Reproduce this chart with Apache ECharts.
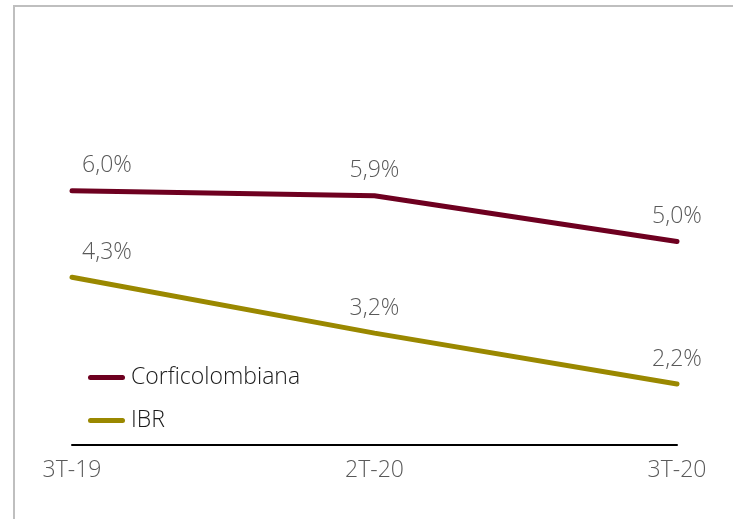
<!DOCTYPE html>
<html>
<head>
<meta charset="utf-8">
<script src="https://cdn.jsdelivr.net/npm/echarts@6/dist/echarts.min.js"></script>
<style>html,body{margin:0;padding:0;background:#fff}#c{width:733px;height:519px}</style>
</head>
<body>
<div id="c"></div>
<script>
const categories = ['3T-19', '2T-20', '3T-20'];
const corfiValues = [6.0, 5.9, 5.0];
const ibrValues = [4.3, 3.2, 2.2];
const seriesNames = ['Corficolombiana', 'IBR'];

const chart = echarts.init(document.getElementById('c'), null, {renderer: 'canvas'});
const fmt = p => p.value.toFixed(1).replace('.', ',') + '%';
function build(vals) {
  return vals.map((v, i) => i === 0 ? {value: v, label: {offset: [35, 0]}} : v);
}
const FONT = 'Open Sans';
const labelStyle = {show: true, position: 'top', distance: 13, formatter: fmt, color: '#595959', fontSize: 23, fontFamily: FONT, fontWeight: 300};
const legendIcon = 'path://M2.5,0 L34.5,0 A2.5,2.5 0 0 1 34.5,5 L2.5,5 A2.5,2.5 0 0 1 2.5,0 Z';
chart.setOption({
  animation: false,
  grid: {left: 72, right: 56, top: 89, bottom: 74},
  legend: {
    orient: 'vertical', left: 83, top: 361, itemWidth: 37, itemHeight: 5, itemGap: 20,
    icon: legendIcon,
    textStyle: {color: '#1a1a1a', fontSize: 23, fontFamily: FONT, fontWeight: 300, padding: [0, 0, 0, 1]},
    data: seriesNames
  },
  xAxis: {
    type: 'category', data: categories, boundaryGap: false,
    axisLine: {lineStyle: {color: '#000', width: 2}},
    axisTick: {show: false},
    axisLabel: {color: '#595959', fontSize: 23, fontFamily: FONT, fontWeight: 300, margin: 14}
  },
  yAxis: {type: 'value', min: 1, max: 8, show: false, splitLine: {show: false}},
  series: [
    {name: seriesNames[0], type: 'line', data: build(corfiValues), symbol: 'circle', symbolSize: 1, color: '#6E0020',
     lineStyle: {width: 5, color: '#6E0020', cap: 'round'}, label: labelStyle},
    {name: seriesNames[1], type: 'line', data: build(ibrValues), symbol: 'circle', symbolSize: 1, color: '#9A8800',
     lineStyle: {width: 5, color: '#9A8800', cap: 'round'}, label: labelStyle}
  ],
  graphic: [
    {type: 'line', shape: {x1: 14, y1: 6, x2: 14, y2: 519}, style: {stroke: '#BFBFBF', lineWidth: 2}},
    {type: 'line', shape: {x1: 13, y1: 6, x2: 733, y2: 6}, style: {stroke: '#BFBFBF', lineWidth: 2}}
  ]
});
</script>
</body>
</html>
